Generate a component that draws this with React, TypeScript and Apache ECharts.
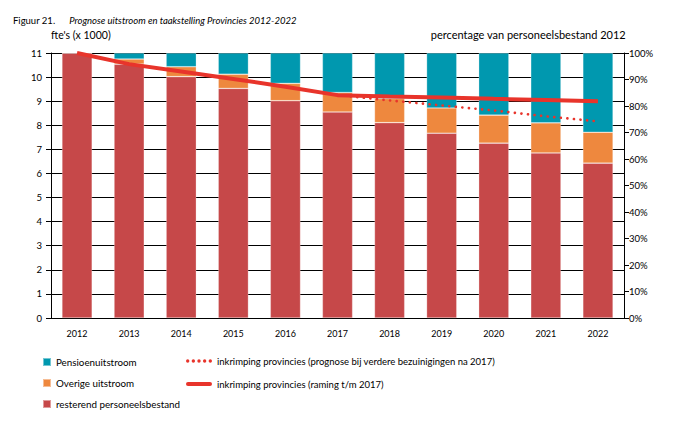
import React, { useEffect, useRef } from "react";
import * as echarts from "echarts";

const years = ["2012", "2013", "2014", "2015", "2016", "2017", "2018", "2019", "2020", "2021", "2022"];
const resterend = [11, 10.54, 10.02, 9.53, 9.02, 8.55, 8.11, 7.67, 7.26, 6.85, 6.43];
const overige = [0, 0.21, 0.41, 0.59, 0.72, 0.81, 1.0, 1.05, 1.16, 1.25, 1.28];
const pensioen = [0, 0.25, 0.57, 0.88, 1.26, 1.64, 1.89, 2.28, 2.58, 2.9, 3.29];
const raming = [100, 95.8, 93.0, 90.2, 87.3, 84.1, 83.6, 83.2, 82.7, 82.3, 81.8];
const prognose = [null, null, null, null, null, 84.1, 82.1, 80.2, 78.3, 76.1, 74.2];

const leftTicks = { min: 0, max: 11, interval: 1 };
const rightTicks = { min: 0, max: 100, interval: 10 };

const FONT = "Lato";

const dotsIcon =
  "path://" +
  [0, 5, 10, 15, 20]
    .map((x) => `M${x},1.5 a1.5,1.5 0 1,0 3,0 a1.5,1.5 0 1,0 -3,0 Z`)
    .join(" ");
const solidIcon = "path://M2,0 L24,0 A2,2 0 0,1 24,4 L2,4 A2,2 0 0,1 2,0 Z";

export default function App() {
  const ref = useRef<HTMLDivElement>(null);
  useEffect(() => {
    if (!ref.current) return;
    const chart = echarts.init(ref.current, undefined, { renderer: "svg" });
    const barBorder = { borderColor: "rgba(255,255,255,0.45)", borderWidth: 0.6 };
    chart.setOption({
      animation: false,
      textStyle: { fontFamily: FONT, color: "#000" },
      title: {
        left: 8,
        top: 6,
        text: "{a|Figuur 21.}   {b|Prognose uitstroom en taakstelling Provincies 2012-2022}",
        textStyle: {
          fontWeight: "normal",
          rich: {
            a: { fontFamily: FONT, fontSize: 9.5, fontWeight: "normal", color: "#000" },
            b: { fontFamily: FONT, fontSize: 9.5, fontWeight: "normal", fontStyle: "italic", color: "#000" },
          },
        },
      },
      graphic: [
        { type: "text", left: 51, top: 29, style: { text: "fte's (x 1000)", fontFamily: FONT, fontSize: 10.5, fill: "#000" } },
        { type: "text", right: 50, top: 29, style: { text: "percentage van personeelsbestand 2012", fontFamily: FONT, fontSize: 11, fill: "#000" } },
      ],
      grid: { left: 51, right: 52, top: 53, bottom: 106, containLabel: false },
      legend: [
        {
          orient: "vertical",
          left: 37,
          top: 352,
          itemWidth: 8,
          itemHeight: 8,
          itemGap: 11,
          icon: "rect",
          textStyle: { fontFamily: FONT, fontSize: 9.8, color: "#000", padding: [0, 0, 0, 0] },
          data: ["Pensioenuitstroom", "Overige uitstroom", "resterend personeelsbestand"],
        },
        {
          orient: "vertical",
          left: 181,
          top: 351,
          itemWidth: 26,
          itemHeight: 10,
          itemGap: 13,
          textStyle: { fontFamily: FONT, fontSize: 9.5, color: "#000", padding: [0, 0, 0, 0] },
          data: [
            { name: "inkrimping provincies (prognose bij verdere bezuinigingen na 2017)", icon: dotsIcon },
            { name: "inkrimping provincies (raming t/m 2017)", icon: solidIcon },
          ],
        },
      ],
      xAxis: {
        type: "category",
        data: years,
        axisLine: { lineStyle: { color: "#000", width: 1 } },
        axisTick: { show: false },
        axisLabel: { fontFamily: FONT, fontSize: 9, color: "#000", margin: 11 },
      },
      yAxis: [
        {
          type: "value",
          ...leftTicks,
          axisLine: { show: true, lineStyle: { color: "#000" } },
          axisTick: { show: true, length: 5, lineStyle: { color: "#000" } },
          axisLabel: { fontFamily: FONT, fontSize: 9.5, color: "#000", margin: 9 },
          splitLine: { show: true, lineStyle: { color: "#000", width: 1 } },
        },
        {
          type: "value",
          ...rightTicks,
          position: "right",
          axisLine: { show: true, lineStyle: { color: "#000" } },
          axisTick: { show: true, length: 5, lineStyle: { color: "#000" } },
          axisLabel: { fontFamily: FONT, fontSize: 9.5, color: "#000", margin: 5, formatter: "{value}%" },
          splitLine: { show: false },
        },
      ],
      series: [
        {
          name: "resterend personeelsbestand",
          type: "bar",
          stack: "s",
          barWidth: "58%",
          data: resterend,
          itemStyle: { color: "#C64849", ...barBorder },
        },
        {
          name: "Overige uitstroom",
          type: "bar",
          stack: "s",
          data: overige,
          itemStyle: { color: "#EE883E", ...barBorder },
        },
        {
          name: "Pensioenuitstroom",
          type: "bar",
          stack: "s",
          data: pensioen,
          itemStyle: { color: "#0098AF", ...barBorder },
        },
        {
          name: "inkrimping provincies (prognose bij verdere bezuinigingen na 2017)",
          type: "line",
          yAxisIndex: 1,
          data: prognose,
          symbol: "none",
          lineStyle: { color: "#E8342B", width: 2.6, type: [0.1, 6.5], cap: "round" },
          itemStyle: { color: "#E8342B" },
          z: 5,
        },
        {
          name: "inkrimping provincies (raming t/m 2017)",
          type: "line",
          yAxisIndex: 1,
          data: raming,
          symbol: "none",
          lineStyle: { color: "#E8342B", width: 4 },
          itemStyle: { color: "#E8342B" },
          z: 6,
        },
      ],
    });
    return () => chart.dispose();
  }, []);
  return (
    <div style={{ position: "absolute", left: 0, top: 0 }}>
      <div ref={ref} style={{ width: 676, height: 424 }} />
    </div>
  );
}
